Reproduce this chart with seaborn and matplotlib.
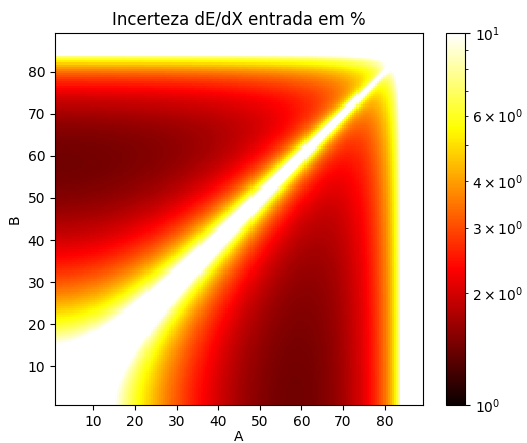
import numpy as np
import pandas as pd
import matplotlib
matplotlib.use("Agg")
import matplotlib.pyplot as plt
import seaborn as sns
from matplotlib.colors import LogNorm

# ---- data definition -------------------------------------------------------
# incidence angles (degrees) of the two measurements
angles_A = np.arange(1.0, 89.01, 0.5)
angles_B = np.arange(1.0, 89.01, 0.5)
tick_values = [10, 20, 30, 40, 50, 60, 70, 80]

# physical model of the dE/dX (entrance) uncertainty, in %
range_in_thickness = 9.8    # particle range in units of detector thickness
range_exponent = 1.75       # R ~ E^1.75
stat_coeff = 0.57           # statistical term coefficient (%)
stat_power = 0.85
path_power = 0.2            # growth of the energy error with path length
bias_coeff = 0.155          # weight of the finite-difference bias term
color_min, color_max = 1.0, 10.0

# ---- compute the field -----------------------------------------------------
A, B = np.meshgrid(angles_A, angles_B)          # rows: B, cols: A
LA = 1.0 / np.cos(np.radians(A))
LB = 1.0 / np.cos(np.radians(B))
m = 1.0 / range_exponent
Rr = range_in_thickness
valid = (LA < Rr) & (LB < Rr) & (A != B)
EA = np.clip(1 - LA / Rr, 0, None) ** m
EB = np.clip(1 - LB / Rr, 0, None) ** m
S0 = m / Rr
with np.errstate(divide="ignore", invalid="ignore"):
    slope = (EB - EA) / (LA - LB) / S0
    bias = 100.0 * (slope - 1.0)
    stat = (stat_coeff * ((LA + LB) / 2) ** path_power
            / np.abs(np.log(LA / LB)) ** stat_power)
    unc = np.sqrt(stat ** 2 + (bias_coeff * bias) ** 2)
unc = np.where(valid & np.isfinite(unc), unc, 1e3)

df = pd.DataFrame(unc, index=angles_B, columns=angles_A)

# ---- plot -------------------------------------------------------------------
fig = plt.figure(figsize=(5.27, 4.43), dpi=100)
W, H = 527, 443
ax = fig.add_axes([55 / W, 1 - 405 / H, 368 / W, 372 / H])
cax = fig.add_axes([446 / W, 1 - 405 / H, 19 / W, 372 / H])

sns.heatmap(df, cmap="hot", norm=LogNorm(vmin=color_min, vmax=color_max),
            ax=ax, cbar_ax=cax, xticklabels=False, yticklabels=False,
            rasterized=True)

ax.set_xlim(0, len(angles_A))
ax.set_ylim(0, len(angles_B))
step = angles_A[1] - angles_A[0]
xpos = [(t - angles_A[0]) / step + 0.5 for t in tick_values]
ypos = [(t - angles_B[0]) / step + 0.5 for t in tick_values]
ax.set_xticks(xpos)
ax.set_xticklabels([str(t) for t in tick_values], rotation=0)
ax.set_yticks(ypos)
ax.set_yticklabels([str(t) for t in tick_values], rotation=0)
ax.tick_params(axis="both", which="both", length=3.5, width=0.8,
               direction="out", labelsize=10, color="black")
for sp in ax.spines.values():
    sp.set_visible(True)
    sp.set_linewidth(0.8)
    sp.set_color("black")
ax.set_xlabel("A", fontsize=10, labelpad=1)
ax.set_ylabel("B", fontsize=10)
ax.set_title("Incerteza dE/dX entrada em %", fontsize=12)

cb = ax.collections[0].colorbar
cb.outline.set_visible(True)
cb.outline.set_linewidth(0.8)
cb.outline.set_edgecolor("black")
cax.tick_params(labelsize=10)

fig.savefig("out.png", dpi=100)
